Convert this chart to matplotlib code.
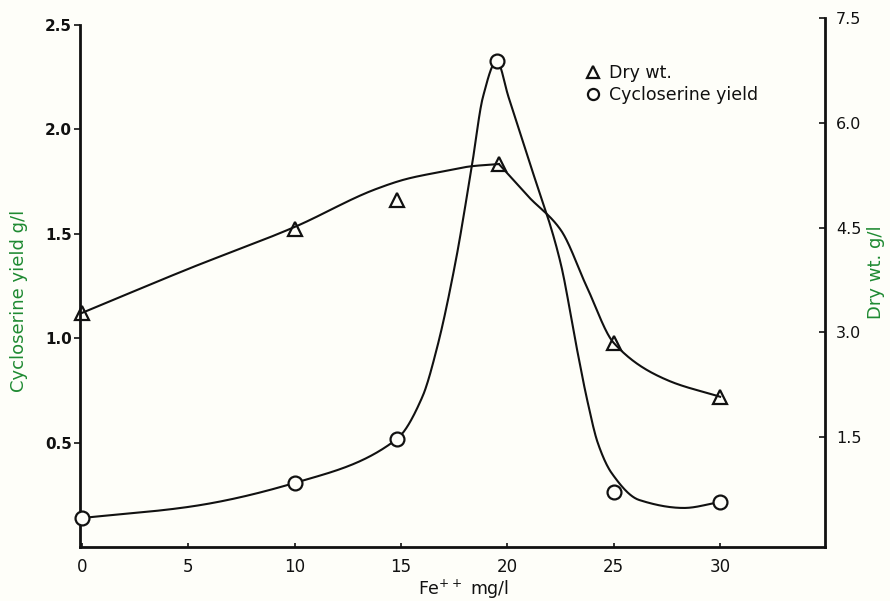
import numpy as np
import matplotlib
matplotlib.use("Agg")
import matplotlib.pyplot as plt
from matplotlib.lines import Line2D

# ---- data ----
fe_dry = [0, 10, 14.8, 19.6, 25, 30]
dry_wt = [3.28, 4.48, 4.90, 5.41, 2.85, 2.08]

fe_cyclo = [0, 10, 14.8, 19.5, 25, 30]
cyclo_yield = [0.139, 0.307, 0.517, 2.328, 0.263, 0.216]

# hand-drawn smooth curves: nodes
dry_curve_left_x = [0, 5, 10, 13.8, 15.3, 16.9, 18.35, 19.6]
dry_curve_left_y = [3.28, 3.91, 4.51, 5.05, 5.20, 5.30, 5.38, 5.41]
dry_curve_right_x = [19.6, 21.0, 22.5, 23.75, 25.0, 27.5, 30]
dry_curve_right_y = [5.41, 4.94, 4.47, 3.64, 2.85, 2.32, 2.08]

cyclo_curve_x = [0, 5, 10, 14.8, 16.0, 16.7, 17.55, 18.35, 18.85, 19.5,
                 20.05, 21.05, 22.5, 23.25, 23.75, 24.25, 24.9, 26.2, 28.3, 30]
cyclo_curve_y = [0.139, 0.192, 0.307, 0.517, 0.719, 0.958, 1.36, 1.84, 2.156, 2.328,
                 2.156, 1.84, 1.36, 0.958, 0.704, 0.498, 0.354, 0.225, 0.187, 0.216]

x_ticks = [0, 5, 10, 15, 20, 25, 30]
left_ticks = [0.5, 1.0, 1.5, 2.0, 2.5]
right_ticks = [1.5, 3.0, 4.5, 6.0, 7.5]


def pchip(x, y, xs):
    x = np.asarray(x, float)
    y = np.asarray(y, float)
    h = np.diff(x)
    d = np.diff(y) / h
    n = len(x)
    m = np.zeros(n)
    for k in range(1, n - 1):
        if d[k - 1] * d[k] <= 0:
            m[k] = 0.0
        else:
            w1 = 2 * h[k] + h[k - 1]
            w2 = h[k] + 2 * h[k - 1]
            m[k] = (w1 + w2) / (w1 / d[k - 1] + w2 / d[k])
    m[0] = d[0]
    m[-1] = d[-1]
    xs = np.asarray(xs, float)
    idx = np.clip(np.searchsorted(x, xs) - 1, 0, n - 2)
    t = (xs - x[idx]) / h[idx]
    h00 = 2 * t**3 - 3 * t**2 + 1
    h10 = t**3 - 2 * t**2 + t
    h01 = -2 * t**3 + 3 * t**2
    h11 = t**3 - t**2
    return (h00 * y[idx] + h10 * h[idx] * m[idx] + h01 * y[idx + 1]
            + h11 * h[idx] * m[idx + 1])


bg = "#fefef9"
ink = "#111111"
green = "#1f8a32"

fig = plt.figure(figsize=(8.9, 6.01), dpi=100, facecolor=bg)
ax = fig.add_axes([80 / 890, 54 / 601, 745 / 890, 529 / 601])
ax.set_facecolor(bg)
ax2 = ax.twinx()

# cycloserine curve + markers (left axis)
xs = np.linspace(cyclo_curve_x[0], cyclo_curve_x[-1], 800)
ax.plot(xs, pchip(cyclo_curve_x, cyclo_curve_y, xs), color=ink, lw=1.5, zorder=2)
ax.plot(fe_cyclo, cyclo_yield, ls="none", marker="o", ms=10, mfc=bg, mec=ink,
        mew=1.6, zorder=3, clip_on=False)

# dry weight curve + markers (right axis)
xl = np.linspace(dry_curve_left_x[0], dry_curve_left_x[-1], 400)
xr = np.linspace(dry_curve_right_x[0], dry_curve_right_x[-1], 400)
ax2.plot(xl, pchip(dry_curve_left_x, dry_curve_left_y, xl), color=ink, lw=1.5, zorder=2)
ax2.plot(xr, pchip(dry_curve_right_x, dry_curve_right_y, xr), color=ink, lw=1.5, zorder=2)
ax2.plot(fe_dry, dry_wt, ls="none", marker="^", ms=10, mfc="none", mec=ink,
         mew=1.6, zorder=3, clip_on=False)

ax.set_xlim(-0.094, 34.93)
ax.set_ylim(0, 2.534)
ax2.set_ylim(-0.07, 7.5)

for a in (ax, ax2):
    a.spines["top"].set_visible(False)
ax.spines["right"].set_visible(False)
ax2.spines["left"].set_visible(False)
ax2.spines["bottom"].set_visible(False)
ax.spines["left"].set_bounds(0, 2.5)
for s in (ax.spines["left"], ax.spines["bottom"], ax2.spines["right"]):
    s.set_linewidth(2.0)
    s.set_color(ink)

ax.set_xticks(x_ticks)
ax.set_xticklabels([str(v) for v in x_ticks])
ax.set_yticks(left_ticks)
ax.set_yticklabels([f"{v:.1f}" for v in left_ticks])
ax2.set_yticks(right_ticks)
ax2.set_yticklabels([f"{v:.1f}" for v in right_ticks])

ax.tick_params(axis="x", direction="in", length=3, width=1.2, labelsize=12,
               colors=ink, pad=8)
ax.tick_params(axis="y", direction="out", length=4, width=1.2, labelsize=11,
               colors=ink, pad=2)
for lab in ax.get_yticklabels():
    lab.set_fontweight("bold")
ax2.tick_params(axis="y", direction="in", length=4, width=1.2, labelsize=11.5,
                colors=ink, pad=8)

ax.set_xlabel("Fe$^{++}$ mg/l", fontsize=12.5, color=ink)
ax.xaxis.set_label_coords(0.515, -0.058)
fig.text(19 / 890, 0.50, "Cycloserine yield g/l", fontsize=13, color=green,
         rotation=90, ha="center", va="center")
fig.text(876 / 890, 1 - 272 / 601, "Dry wt. g/l", fontsize=13, color=green,
         rotation=90, ha="center", va="center")

handles = [
    Line2D([], [], ls="none", marker="^", ms=9, mfc="none", mec=ink, mew=1.6),
    Line2D([], [], ls="none", marker="o", ms=8, mfc="none", mec=ink, mew=1.6),
]
leg = ax2.legend(handles, ["Dry wt.", "Cycloserine yield"], loc="upper left",
                 bbox_to_anchor=(0.668, 0.93), frameon=False, fontsize=12.5,
                 handlelength=0.8, handletextpad=0.5, labelspacing=0.25,
                 borderpad=0.0)
for t in leg.get_texts():
    t.set_color(ink)

fig.savefig("out.png", dpi=100, facecolor=bg)
